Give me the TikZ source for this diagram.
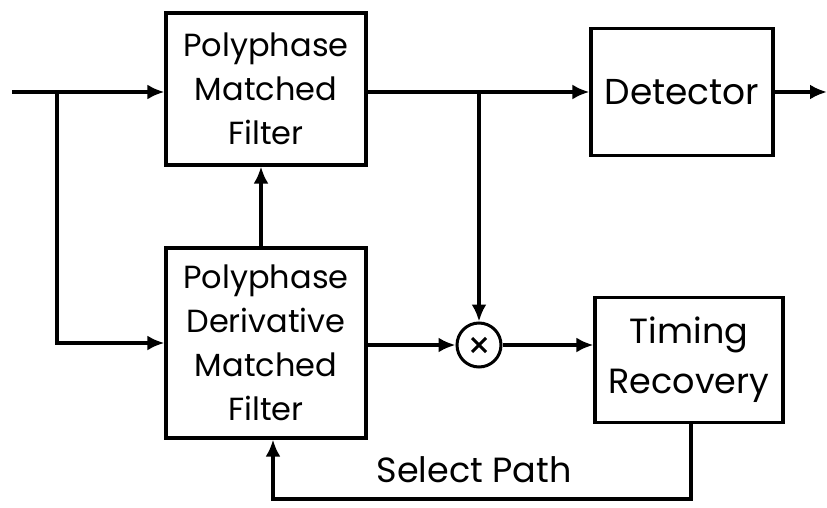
\documentclass[tikz,border=0pt]{standalone}
\usepackage{fontspec}
\setmainfont{Poppins}
\usetikzlibrary{positioning,calc,shapes,arrows.meta}
\tikzstyle{block}=[draw,line width=3.2pt,align=center,font=\fontsize{32}{44}\selectfont,inner sep=2pt]
\tikzstyle{mult}=[draw,circle,line width=3pt,minimum size=44pt,inner sep=0pt,
  path picture={\draw[line width=3pt] (-7pt,-7pt) -- (7pt,7pt) (-7pt,7pt) -- (7pt,-7pt);}]
\tikzstyle{arr}=[-{Latex[length=17pt,width=15pt]},line width=3.6pt]

\begin{document}
\begin{tikzpicture}[x=1pt,y=-1pt]
      \useasboundingbox (0,0) rectangle (827,508);
      \node (PMF) [block,minimum width=200pt,minimum height=152pt] at (266,89) {Polyphase\\Matched\\Filter};
      \node (PDMF) [block,minimum width=200pt,minimum height=190pt] at (266,343) {Polyphase\\Derivative\\Matched\\Filter};
      \node (DET) [block,minimum width=182pt,minimum height=127pt,font=\fontsize{36}{48}\selectfont] at (682,92) {Detector};
      \node (TR) [block,minimum width=188pt,minimum height=125pt,font=\fontsize{35}{50}\selectfont] at (689,360) {Timing\\Recovery};
      \node (MUL) [mult] at (479,345) {};
      \node (SP) [font=\fontsize{35}{40}\selectfont] at (474,470) {Select Path};

      \coordinate (IN) at (12,92);
      \coordinate (SPLIT) at (57,92);
      \coordinate (TAP) at (479,92);
      \coordinate (OUT) at (827,92);
      \coordinate (LOOP) at (691,499);

      \draw[arr] (IN) -- (IN -| PMF.west);
      \draw[arr] (SPLIT) |- (PDMF.west);
      \draw[arr] ([xshift=-5pt]PDMF.north) -- ([xshift=-5pt]PMF.south);
      \draw[arr] (DET.west -| PMF.east) -- (DET.west);
      \draw[arr] (TAP) -- (MUL.north);
      \draw[arr] (PDMF.east |- MUL.west) -- (MUL.west);
      \draw[arr] (MUL.east) -- (MUL.east -| TR.west);
      \draw[arr] (DET.east) -- (OUT);
      \draw[arr] (LOOP |- TR.south) -- (LOOP) -| ([xshift=7pt]PDMF.south);
    \end{tikzpicture}
\end{document}
